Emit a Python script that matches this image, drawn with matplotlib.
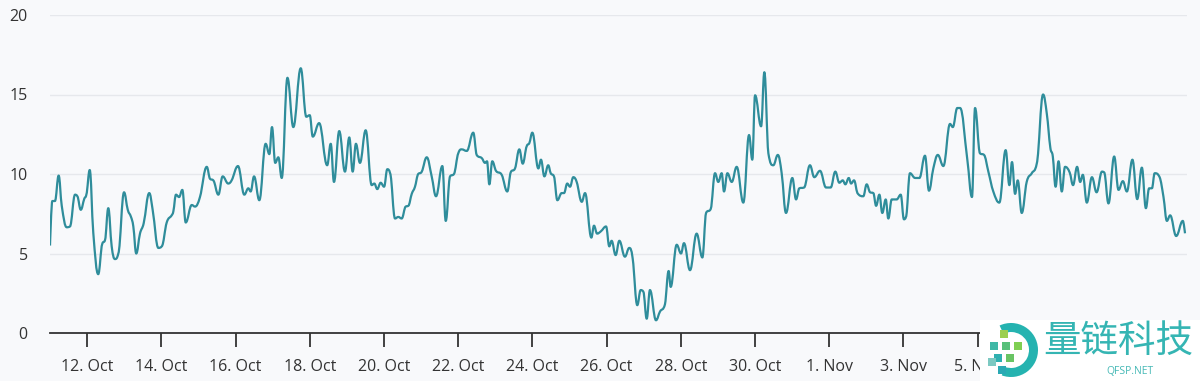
import matplotlib
matplotlib.use("Agg")
import matplotlib.pyplot as plt
import matplotlib.dates as mdates
from matplotlib.patches import Wedge, Rectangle, PathPatch
from matplotlib.path import Path
from datetime import datetime, timedelta

plt.rcParams['font.family'] = ['Open Sans', 'DejaVu Sans']

# ---- data (hours since 11 Oct 00:00, value) ----
start = datetime(2023, 10, 11)
hours = [0.0, 1.5, 3.2, 5.6, 7.6, 10.8, 12.9, 16.2, 17.7, 19.9, 22.2, 23.5, 25.7, 28.0, 31.2, 33.8,
         35.6, 37.7, 39.9, 42.0, 44.2, 47.9, 50.3, 52.4, 53.9, 55.8, 58.2, 60.6, 64.2, 66.4, 70.1,
         72.3, 75.5, 78.7, 79.8, 81.5, 83.5, 85.6, 87.8, 91.7, 93.8, 97.0, 101.4, 103.5, 105.6,
         108.9, 111.7, 115.3, 117.5, 121.6, 125.7, 128.3, 129.8, 132.0, 135.4, 139.5, 141.9, 143.6,
         145.7, 147.7, 149.9, 153.6, 157.4, 162.2, 165.8, 168.0, 170.0, 174.1, 179.3, 181.6, 183.7,
         187.1, 190.8, 193.6, 195.8, 197.9, 200.5, 204.2, 208.1, 209.8, 211.7, 213.9, 216.1, 218.2,
         220.0, 223.2, 225.3, 227.5, 230.1, 231.8, 234.0, 236.1, 237.9, 240.5, 243.7, 246.9, 249.7,
         253.8, 256.0, 258.8, 261.3, 264.1, 266.3, 269.6, 273.8, 276.0, 279.3, 281.4, 282.7, 284.2,
         286.1, 288.5, 292.2, 295.8, 298.0, 300.8, 303.6, 305.8, 308.4, 310.1, 312.0, 315.9, 317.6,
         319.8, 322.3, 323.9, 326.0, 328.2, 331.0, 332.5, 334.6, 336.4, 338.5, 340.7, 344.0, 346.1,
         350.2, 351.9, 353.9, 356.4, 359.7, 361.8, 363.3, 365.9, 368.3, 371.9, 374.7, 376.9, 379.9,
         382.1, 383.8, 386.0, 388.1, 392.0, 394.6, 397.8, 400.2, 401.5, 405.4, 408.2, 410.1, 414.0,
         418.3, 422.0, 424.4, 427.4, 430.2, 432.3, 434.5, 436.0, 438.2, 441.0, 444.2, 448.5, 452.2,
         454.3, 456.1, 460.0, 462.1, 464.7, 467.9, 470.8, 473.3, 476.1, 480.2, 482.6, 484.7, 487.8,
         491.6, 494.4, 498.1, 502.0, 505.0, 508.0, 510.6, 512.8, 514.5, 516.7, 518.2, 520.1, 522.3,
         526.1, 528.3, 530.5, 532.6, 534.4, 536.5, 538.4, 540.6, 542.3, 544.5, 547.7, 550.3, 552.4,
         553.7, 556.3, 559.6, 562.4, 566.0, 568.6, 571.4, 574.3, 577.9, 582.2, 584.0, 586.9, 588.7,
         593.4, 596.4, 598.4, 601.6, 604.2, 607.0, 610.2, 614.1, 618.2, 620.6, 622.3, 624.3, 626.0,
         628.6, 631.8, 635.1, 638.3, 642.4, 644.8, 647.1, 648.7, 650.5, 652.4, 654.5, 656.6, 659.6,
         661.8, 664.4, 666.4, 668.1, 670.7, 674.0, 677.0, 680.5, 681.9, 684.7, 688.4, 691.2, 694.0,
         696.6, 700.2, 703.3, 706.3, 708.9, 711.0, 712.8, 714.6, 717.8, 720.3, 722.5, 724.6, 728.5,
         732.8, 734.2]
values = [5.5, 8.3, 8.3, 9.9, 8.0, 6.65, 6.7, 8.7, 8.6, 7.75, 8.45, 8.7, 10.25, 6.3, 3.7, 5.6,
          5.85, 7.85, 5.45, 4.65, 5.0, 8.85, 7.75, 7.3, 6.7, 5.0, 6.25, 6.9, 8.8, 7.75, 5.35,
          5.45, 6.95, 7.4, 7.65, 8.7, 8.55, 9.0, 6.95, 8.05, 7.95, 8.55, 10.45, 9.7, 9.6,
          8.7, 9.85, 9.4, 9.6, 10.5, 8.7, 9.1, 8.9, 9.85, 8.35, 11.9, 11.25, 12.95,
          10.7, 11.05, 9.75, 16.05, 12.95, 16.65, 13.6, 13.7, 12.35, 13.2, 10.55, 11.9, 9.5,
          12.7, 10.15, 12.3, 10.15, 11.9, 10.7, 12.75, 9.3, 9.4, 9.05, 9.45, 9.2, 10.3,
          10.05, 7.2, 7.3, 7.2, 7.95, 8.0, 8.75, 9.2, 9.95, 10.15, 11.05, 9.85, 8.6,
          10.5, 7.05, 9.85, 10.0, 11.3, 11.55, 11.45, 12.6, 11.2, 11.0, 10.7, 10.8, 9.35,
          10.8, 10.2, 9.95, 8.9, 10.1, 10.35, 11.55, 10.65, 11.75, 11.95, 12.6, 10.35, 10.9,
          9.85, 10.55, 10.05, 9.85, 8.35, 8.8, 8.8, 9.4, 9.2, 9.8, 9.5, 8.25, 8.8,
          6.0, 6.75, 6.25, 6.4, 6.7, 5.45, 5.8, 4.9, 5.8, 4.8, 5.35, 4.7, 1.75,
          2.7, 2.6, 0.9, 2.7, 0.8, 1.35, 1.8, 3.9, 2.9, 5.55, 5.0, 5.65, 3.95,
          6.25, 4.75, 7.55, 7.8, 10.05, 9.5, 10.05, 8.9, 10.05, 9.5, 10.45, 8.2, 12.45,
          10.9, 14.95, 13.0, 16.4, 11.3, 10.55, 11.2, 10.05, 7.55, 9.75, 8.4, 9.1, 9.15,
          10.55, 9.8, 10.2, 9.15, 9.15, 10.15, 9.45, 9.6, 9.35, 9.75, 9.4, 9.6, 8.8,
          8.6, 9.35, 8.85, 8.8, 8.0, 8.7, 7.55, 8.4, 7.2, 8.4, 8.4, 8.7, 7.15,
          7.3, 10.05, 9.75, 9.75, 11.15, 8.95, 10.35, 11.2, 10.5, 13.15, 12.95, 14.15, 14.15,
          10.9, 8.55, 14.15, 11.3, 11.2, 10.15, 8.9, 8.2, 11.5, 9.3, 10.75, 8.75, 9.6,
          7.55, 9.5, 10.05, 10.65, 15.0, 13.8, 11.65, 11.1, 9.2, 10.8, 8.9, 10.45, 10.1,
          9.3, 10.45, 9.5, 9.95, 8.2, 9.8, 8.85, 10.15, 10.1, 8.15, 11.1, 9.0, 9.55,
          8.9, 10.9, 8.42, 10.4, 7.85, 9.1, 9.1, 10.05, 9.8, 8.55, 7.05, 7.4, 6.1,
          7.05, 6.27]
y_ticks = [0, 5, 10, 15, 20]
x_tick_days = [12, 14, 16, 18, 20, 22, 24, 26, 28, 30, 32, 34, 36, 38, 40]  # day offsets in Oct (32 = 1 Nov)
hidden_tick_labels = {38, 40}  # covered by the watermark in the reference

times = [start + timedelta(hours=h) for h in hours]

W, H = 1200, 381
fig = plt.figure(figsize=(W / 100, H / 100), dpi=100)
bg = '#f8f9fb'
fig.patch.set_facecolor(bg)

left, right, top, bottom = 50, 1187, 15, 333
ax = fig.add_axes([left / W, 1 - bottom / H, (right - left) / W, (bottom - top) / H])
ax.set_facecolor(bg)


def spline_path(xs, ys, smoothing=1.5):
    """Highcharts-style spline drawing through the given points."""
    n = len(xs)
    lc, rc = [None] * n, [None] * n
    for i in range(n):
        x, y = xs[i], ys[i]
        if 0 < i < n - 1:
            px, py = xs[i - 1], ys[i - 1]
            nx, ny = xs[i + 1], ys[i + 1]
            lx = (smoothing * x + px) / (smoothing + 1)
            ly = (smoothing * y + py) / (smoothing + 1)
            rx = (smoothing * x + nx) / (smoothing + 1)
            ry = (smoothing * y + ny) / (smoothing + 1)
            if rx != lx:
                slope = (ry - ly) / (rx - lx)
                ly = (lx - x) * slope + y
                ry = (rx - x) * slope + y
            if ly > max(py, y) or ly < min(py, y):
                ly = max(py, y) if ly > max(py, y) else min(py, y)
                ry = 2 * y - ly
            if ry > max(ny, y) or ry < min(ny, y):
                ry = max(ny, y) if ry > max(ny, y) else min(ny, y)
                ly = 2 * y - ry
            lc[i], rc[i] = (lx, ly), (rx, ry)
        else:
            lc[i], rc[i] = (x, y), (x, y)
    verts = [(xs[0], ys[0])]
    codes = [Path.MOVETO]
    for i in range(1, n):
        verts += [rc[i - 1], lc[i], (xs[i], ys[i])]
        codes += [Path.CURVE4] * 3
    return Path(verts, codes)


xnum = [mdates.date2num(t) for t in times]
ax.plot(times, values, lw=0)  # registers the date axis
ax.add_patch(PathPatch(spline_path(xnum, values), facecolor='none', edgecolor='#2f8d9b',
                       lw=1.6, joinstyle='round', zorder=3))

ax.set_ylim(0, 20)
ax.set_xlim(start, start + timedelta(hours=735.5))
ax.set_yticks(y_ticks)
ax.yaxis.grid(True, color='#e6e8ec', lw=1)
ax.set_axisbelow(True)
for s in ['top', 'right', 'left']:
    ax.spines[s].set_visible(False)
ax.spines['bottom'].set_color('#333333')
ax.spines['bottom'].set_linewidth(1.3)

tick_dates = [start + timedelta(days=d - 11) for d in x_tick_days]
ax.set_xticks(tick_dates)
ax.set_xticklabels(['' if d in hidden_tick_labels else t.strftime('%-d. %b')
                    for d, t in zip(x_tick_days, tick_dates)])
ax.tick_params(axis='x', length=10, width=1.3, color='#333333', pad=9,
               labelsize=11.5, labelcolor='#333333')
ax.tick_params(axis='y', length=0, pad=16, labelsize=11.5, labelcolor='#333333')

# watermark
wax = fig.add_axes([980 / W, 0, 220 / W, 61 / H])
wax.set_xlim(980, 1200)
wax.set_ylim(381, 320)
wax.set_facecolor('white')
wax.axis('off')
wax.add_patch(Rectangle((980, 320), 220, 61, facecolor='white', edgecolor='none'))
wax.add_patch(Wedge((1011, 350), 27, -115, 110, width=9, facecolor='#25b3b0', edgecolor='none'))
sq = [(1000, 330, '#9ccf4f'), (990, 342, '#3fb8a6'), (1002, 342, '#58c07a'), (1014, 342, '#7fcf52'),
      (994, 354, '#2fb0b0'), (1006, 354, '#69c464'), (998, 366, '#2aa9b4'), (988, 358, '#7cc9c2')]
for (x, y, c) in sq:
    wax.add_patch(Rectangle((x, y), 8, 8, facecolor=c, edgecolor='none'))
wax.text(1043, 341, '量链科技', fontsize=27, color='#35b5b3', va='center', ha='left',
         family=['Noto Sans CJK SC', 'DejaVu Sans'])
wax.text(1130, 371, 'QFSP.NET', fontsize=7.5, color='#46b9b6', va='center', ha='center')

fig.savefig('out.png', dpi=100, facecolor=bg)
